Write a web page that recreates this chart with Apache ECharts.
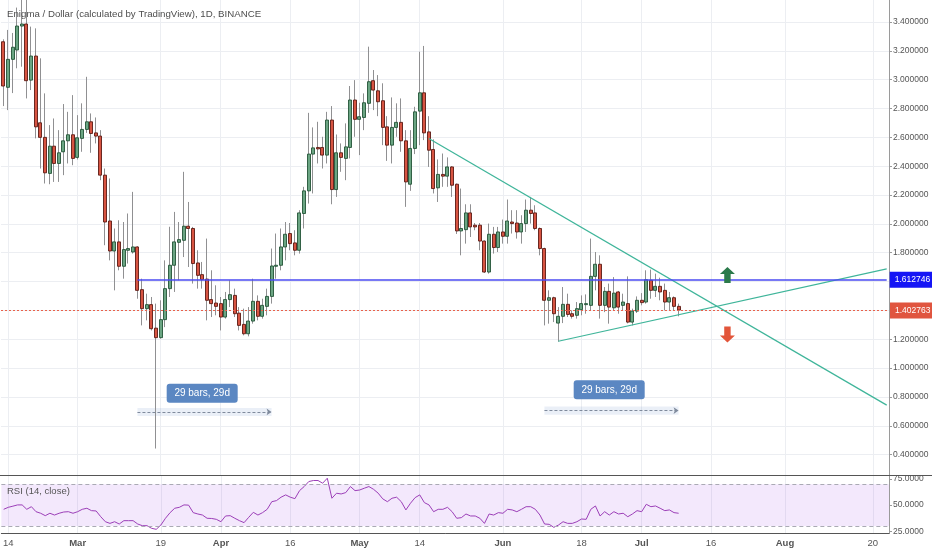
<!DOCTYPE html>
<html><head><meta charset="utf-8">
<script src="https://cdn.jsdelivr.net/npm/echarts@6/dist/echarts.min.js"></script>
<style>html,body{margin:0;padding:0;background:#fff}#c{width:932px;height:550px}</style>
</head><body><div id="c"></div>
<script>
// ---- categories (daily bars) ----
const startDate = [2018, 1, 13];
const categoryCount = 192;
const dates = [];
for (let i = 0; i < categoryCount; i++) {
  dates.push(new Date(Date.UTC(startDate[0], startDate[1], startDate[2] + i)).toISOString().slice(0, 10));
}
const tickDates = ['2018-02-14','2018-03-01','2018-03-19','2018-04-01','2018-04-16','2018-05-01','2018-05-14','2018-06-01','2018-06-18','2018-07-01','2018-07-16','2018-08-01','2018-08-20'];
const tickTexts = ['14','Mar','19','Apr','16','May','14','Jun','18','Jul','16','Aug','20'];
const priceTicks = [0.4,0.6,0.8,1.0,1.2,1.4,1.6,1.8,2.0,2.2,2.4,2.6,2.8,3.0,3.2,3.4];
const rsiTicks = [25, 50, 75];

// ---- OHLC ----
const opens = [3.263,2.947,3.141,3.206,3.372,3.386,2.997,3.164,2.701,2.600,
2.350,2.539,2.419,2.500,2.576,2.618,2.461,2.593,2.655,2.708,
2.631,2.609,2.338,2.020,1.812,1.875,1.706,1.817,1.805,1.840,
1.544,1.412,1.440,1.277,1.211,1.336,1.551,1.713,1.872,1.886,
1.984,1.968,1.729,1.648,1.617,1.475,1.451,1.447,1.354,1.475,
1.504,1.381,1.303,1.238,1.326,1.463,1.359,1.428,1.497,1.706,
1.713,1.840,1.933,1.868,1.817,2.072,2.229,2.484,2.530,2.530,
2.477,2.720,2.238,2.493,2.454,2.530,2.859,2.725,2.738,2.836,
2.993,2.923,2.854,2.673,2.546,2.669,2.704,2.576,2.275,2.523,
2.782,2.909,2.638,2.516,2.250,2.343,2.331,2.395,2.275,1.951,
1.960,2.076,1.991,1.991,1.881,1.666,1.928,1.836,1.944,1.914,
2.013,2.006,1.944,2.002,2.095,2.076,1.968,1.829,1.470,1.488,
1.312,1.359,1.442,1.377,1.366,1.405,1.440,1.435,1.636,1.720,
1.435,1.532,1.418,1.528,1.435,1.447,1.319,1.395,1.470,1.458,
1.609,1.539,1.567,1.539,1.458,1.488,1.428];
const closes = [2.956,3.141,3.225,3.372,3.386,2.993,3.164,2.673,2.600,2.354,
2.539,2.419,2.493,2.576,2.618,2.454,2.597,2.655,2.708,2.627,
2.609,2.338,2.013,1.812,1.875,1.706,1.822,1.829,1.840,1.539,
1.412,1.440,1.273,1.211,1.336,1.551,1.713,1.875,1.891,1.984,
1.968,1.725,1.643,1.613,1.470,1.447,1.428,1.354,1.475,1.509,
1.377,1.296,1.238,1.326,1.463,1.359,1.435,1.497,1.708,1.713,
1.840,1.928,1.863,1.817,2.076,2.229,2.484,2.527,2.520,2.477,
2.720,2.238,2.493,2.461,2.534,2.859,2.725,2.743,2.840,2.986,
2.928,2.847,2.669,2.546,2.669,2.704,2.576,2.291,2.523,2.777,
2.909,2.631,2.511,2.245,2.343,2.331,2.395,2.268,1.951,1.968,
2.076,1.979,1.979,1.881,1.666,1.928,1.836,1.944,1.914,2.020,
2.002,1.944,2.002,2.095,2.072,1.968,1.829,1.470,1.488,1.377,
1.359,1.442,1.372,1.359,1.412,1.447,1.447,1.636,1.720,1.435,
1.532,1.423,1.520,1.423,1.458,1.319,1.395,1.470,1.454,1.613,
1.539,1.567,1.528,1.458,1.488,1.428,1.402763];
const lows = [2.817,2.789,2.907,3.079,3.090,2.870,2.928,2.593,2.384,2.280,
2.275,2.291,2.291,2.338,2.419,2.407,2.447,2.500,2.631,2.493,
2.558,2.303,1.852,1.747,1.539,1.678,1.620,1.725,1.794,1.481,
1.296,1.331,1.261,0.442,1.204,1.284,1.493,1.528,1.609,1.770,
1.701,1.586,1.551,1.551,1.331,1.354,1.366,1.261,1.343,1.423,
1.354,1.261,1.227,1.220,1.308,1.331,1.343,1.366,1.447,1.620,
1.678,1.747,1.817,1.782,1.794,1.968,2.141,2.211,2.419,2.384,
2.419,2.136,2.187,2.361,2.303,2.454,2.604,2.477,2.650,2.770,
2.789,2.747,2.546,2.437,2.419,2.604,2.500,2.118,2.229,2.484,
2.546,2.581,2.395,2.211,2.152,2.257,2.257,2.187,1.930,1.782,
1.863,1.909,1.956,1.817,1.660,1.655,1.794,1.805,1.863,1.863,
1.933,1.898,1.863,1.944,2.002,1.956,1.782,1.296,1.308,1.319,
1.183,1.312,1.354,1.343,1.343,1.366,1.377,1.400,1.539,1.343,
1.388,1.308,1.400,1.377,1.400,1.310,1.296,1.382,1.435,1.447,
1.481,1.493,1.470,1.400,1.400,1.400,1.359];
const highs = [3.280,3.345,3.324,3.500,3.560,3.560,3.368,3.356,3.148,2.905,
2.685,2.731,2.650,2.831,2.777,2.893,2.754,2.836,3.020,2.766,
2.738,2.650,2.384,2.315,1.968,2.025,2.013,2.072,2.222,1.845,
1.620,1.516,1.493,1.447,1.470,1.747,1.980,2.083,2.013,2.361,
2.152,1.979,1.817,1.736,1.898,1.678,1.574,1.493,1.528,1.609,
1.551,1.423,1.412,1.423,1.620,1.504,1.481,1.551,1.829,1.933,
1.968,2.013,2.006,1.956,2.095,2.257,2.770,2.669,2.708,2.604,
2.777,2.817,2.620,2.558,2.697,2.956,2.997,2.840,2.905,3.229,
3.067,3.032,2.975,2.747,2.877,2.836,2.870,2.650,2.650,2.812,
3.194,3.234,2.747,2.586,2.447,2.488,2.461,2.400,2.280,2.245,
2.136,2.136,2.006,2.006,1.885,2.002,1.979,1.979,2.030,2.169,
2.095,2.095,2.060,2.169,2.187,2.129,1.975,1.835,1.539,1.495,
1.423,1.562,1.516,1.400,1.458,1.504,1.511,1.898,1.805,1.782,
1.562,1.586,1.631,1.535,1.516,1.636,1.412,1.497,1.520,1.678,
1.683,1.655,1.627,1.586,1.528,1.497,1.447];
const rsi = [46.0,47.9,49.0,50.2,50.2,46.0,48.5,43.7,42.2,39.9,
42.2,40.5,42.2,43.4,43.7,42.2,43.7,46.0,47.0,44.7,
44.4,38.9,34.1,32.5,34.1,31.9,35.1,35.1,35.1,31.9,
30.3,30.3,27.8,26.8,30.9,37.4,42.8,47.0,47.9,50.2,
50.0,42.8,41.5,40.5,37.4,37.2,36.4,34.1,39.6,39.9,
37.4,35.1,33.2,38.3,43.1,40.5,42.8,46.0,53.3,54.3,
57.6,59.8,57.6,56.2,63.9,67.8,72.6,73.6,73.6,71.0,
75.8,56.6,61.4,60.7,62.0,67.8,63.9,64.5,66.2,67.8,
65.2,61.5,56.0,53.3,56.6,57.6,53.3,45.4,51.8,57.2,
59.8,52.4,50.2,43.7,46.0,46.0,47.9,43.7,37.4,38.0,
41.5,39.6,39.6,37.4,32.5,41.5,40.5,42.8,42.2,46.0,
45.4,43.7,46.0,48.5,48.5,46.0,40.5,31.9,31.6,28.7,
30.9,34.1,32.5,32.5,34.1,36.7,36.4,46.0,49.2,39.6,
43.7,40.5,43.7,41.5,42.2,38.9,41.5,44.7,43.7,50.8,
48.5,49.2,47.0,44.7,45.4,42.8,42.2];

// ---- drawings (bar index, price) ----
const resistLine = [[92, 2.592], [191, 0.743]];
const supportLine = [[120, 1.186], [191, 1.688]];
const levelLine = [[29, 1.612746], [191, 1.612746]];
const lastPrice = 1.402763;
const upArrow = [157, 1.646];
const downArrow = [157, 1.233];
const rangeStarts = [29, 117];
const rangeEnds = [58, 146];
const rangeLineY = [0.696, 0.705];
const rangeBandTop = [0.724, 0.733];
const rangeBandBottom = [0.668, 0.676];
const rangeLabelAt = [43, 131];
const rangeLabelY = [0.826, 0.849];
const rangeText = ['29 bars, 29d', '29 bars, 29d'];

const FONT = 'Liberation Sans';
const wickData = opens.map((o, i) => [o, closes[i], lows[i], highs[i]]);
const bodyData = opens.map((o, i) => [o, closes[i], Math.min(o, closes[i]), Math.max(o, closes[i])]);
const c = (p) => ({ coord: [dates[p[0]], p[1]] });

const trendStyle = { color: '#3fb59a', width: 1.2, type: 'solid' };
const markLines = [
  [Object.assign(c(resistLine[0]), { lineStyle: trendStyle }), c(resistLine[1])],
  [Object.assign(c(supportLine[0]), { lineStyle: trendStyle }), c(supportLine[1])],
  [Object.assign(c(levelLine[0]), {
    lineStyle: { color: '#4b4bf2', width: 1.5, type: 'solid' },
    label: { show: true, position: 'end', distance: 3, formatter: levelLine[0][1].toFixed(6), color: '#fff',
      backgroundColor: '#1515f5', padding: [4, 5, 3, 5], fontSize: 8.5, fontFamily: FONT }
  }), c(levelLine[1])],
  { yAxis: lastPrice, lineStyle: { color: '#e8624c', width: 1, type: [2, 2] },
    label: { show: true, position: 'end', distance: 1, formatter: lastPrice.toFixed(6), color: '#fff',
      backgroundColor: '#e0553f', padding: [4, 5, 3, 5], fontSize: 8.5, fontFamily: FONT } }
];
const markAreas = [];
const markPoints = [
  { coord: [dates[upArrow[0]], upArrow[1]], symbol: 'path://M7,0L14,7L10,7L10,16L4,16L4,7L0,7Z', symbolSize: [15, 16], symbolOffset: [-2, 0], itemStyle: { color: '#2b7a4b' }, label: { show: false } },
  { coord: [dates[downArrow[0]], downArrow[1]], symbol: 'path://M4,0L10,0L10,9L14,9L7,16L0,9L4,9Z', symbolSize: [15, 16], symbolOffset: [-2, 0], itemStyle: { color: '#e2553a' }, label: { show: false } }
];
rangeStarts.forEach((s, k) => {
  markLines.push([
    { coord: [dates[s], rangeLineY[k]], symbol: 'none', lineStyle: { color: '#7f8a9c', width: 1, type: [3, 2] } },
    { coord: [dates[rangeEnds[k]], rangeLineY[k]], symbol: 'arrow', symbolSize: 5 }
  ]);
  markAreas.push([
    { coord: [dates[s], rangeBandTop[k]], itemStyle: { color: 'rgba(91,135,194,0.13)' } },
    { coord: [dates[rangeEnds[k]], rangeBandBottom[k]] }
  ]);
  markPoints.push({ coord: [dates[rangeLabelAt[k]], rangeLabelY[k]],
    symbol: 'path://M3,0H68Q71,0 71,3V16Q71,19 68,19H3Q0,19 0,16V3Q0,0 3,0Z', symbolSize: [71, 19],
    itemStyle: { color: '#5b87c2' },
    label: { show: true, position: 'inside', formatter: rangeText[k], color: '#fff', fontSize: 10, fontFamily: FONT } });
});

const vGrid = { show: true, alignWithLabel: true, interval: (i, v) => tickDates.indexOf(v) >= 0, lineStyle: { color: '#eceef2', width: 1 } };

const chart = echarts.init(document.getElementById('c'), null, { renderer: 'canvas' });
chart.setOption({
  animation: false,
  backgroundColor: '#fff',
  textStyle: { fontFamily: FONT },
  title: [
    { text: 'Enigma / Dollar (calculated by TradingView), 1D, BINANCE', left: 7, top: 9, padding: 0,
      textStyle: { fontSize: 9.7, fontWeight: 'normal', color: '#4d4d4d', fontFamily: FONT } },
    { text: 'RSI (14, close)', left: 7, top: 486, padding: 0,
      textStyle: { fontSize: 9.5, fontWeight: 'normal', color: '#555', fontFamily: FONT } }
  ],
  grid: [
    { left: 1, right: 43, top: 0, height: 475 },
    { left: 1, right: 43, top: 475.5, height: 58 }
  ],
  xAxis: [
    { type: 'category', gridIndex: 0, data: dates, boundaryGap: true,
      axisLine: { show: false }, axisTick: { show: false }, axisLabel: { show: false }, splitLine: vGrid },
    { type: 'category', gridIndex: 1, data: dates, boundaryGap: true,
      axisLine: { show: true, lineStyle: { color: '#555', width: 1 } }, axisTick: { show: false },
      axisLabel: { show: true, interval: (i, v) => tickDates.indexOf(v) >= 0, margin: 5, fontSize: 9.5, color: '#555',
        formatter: (v) => { const t = tickTexts[tickDates.indexOf(v)]; return /^\d/.test(t) ? t : '{b|' + t + '}'; },
        rich: { b: { fontWeight: 'bold', fontSize: 9.5, color: '#555' } } },
      splitLine: vGrid }
  ],
  yAxis: [
    { type: 'value', gridIndex: 0, position: 'right', min: 0.2585, max: 3.5526,
      axisLine: { show: true, lineStyle: { color: '#9a9a9a' } },
      axisTick: { show: true, length: 3, customValues: priceTicks, lineStyle: { color: '#9a9a9a' } },
      axisLabel: { customValues: priceTicks, formatter: (v) => v.toFixed(6), fontSize: 8.5, color: '#555', margin: 4 },
      splitLine: { show: true, lineStyle: { color: '#eceef2' } } },
    { type: 'value', gridIndex: 1, position: 'right', min: 22.8, max: 78.4,
      axisLine: { show: true, lineStyle: { color: '#9a9a9a' } },
      axisTick: { show: true, length: 3, customValues: rsiTicks, lineStyle: { color: '#9a9a9a' } },
      axisLabel: { customValues: rsiTicks, formatter: (v) => v.toFixed(4), fontSize: 8.5, color: '#555', margin: 4 },
      splitLine: { show: false } }
  ],
  series: [
    { name: 'wick', type: 'candlestick', xAxisIndex: 0, yAxisIndex: 0, data: wickData, barWidth: 1,
      itemStyle: { color: '#909092', color0: '#909092', borderColor: '#909092', borderColor0: '#909092', borderWidth: 1 },
      silent: true },
    { name: 'body', type: 'candlestick', xAxisIndex: 0, yAxisIndex: 0, data: bodyData, barWidth: 3.6,
      itemStyle: { color: '#6ba583', color0: '#d75442', borderColor: '#225437', borderColor0: '#5b1a13', borderWidth: 0.9 },
      silent: true,
      markLine: { silent: true, symbol: ['none', 'none'], label: { show: false }, data: markLines },
      markArea: { silent: true, data: markAreas },
      markPoint: { silent: true, data: markPoints } },
    { name: 'RSI', type: 'line', xAxisIndex: 1, yAxisIndex: 1, data: rsi, symbol: 'none',
      lineStyle: { color: '#9c3fb8', width: 1 }, silent: true,
      markArea: { silent: true, data: [[{ yAxis: 30, itemStyle: { color: 'rgba(160,80,230,0.13)' } }, { yAxis: 70 }]] },
      markLine: { silent: true, symbol: ['none', 'none'], label: { show: false },
        lineStyle: { color: '#aaaab4', type: [4, 3], width: 1 }, data: [{ yAxis: 70 }, { yAxis: 30 }] } }
  ],
  graphic: [
    { type: 'line', shape: { x1: 0, y1: 475.5, x2: 932, y2: 475.5 }, style: { stroke: '#555', lineWidth: 1.2 }, z: 50, silent: true },
    { type: 'rect', shape: { x: 890, y: 534.5, width: 42, height: 16 }, style: { fill: '#fff' }, z: 100, silent: true }
  ]
});
</script></body></html>
